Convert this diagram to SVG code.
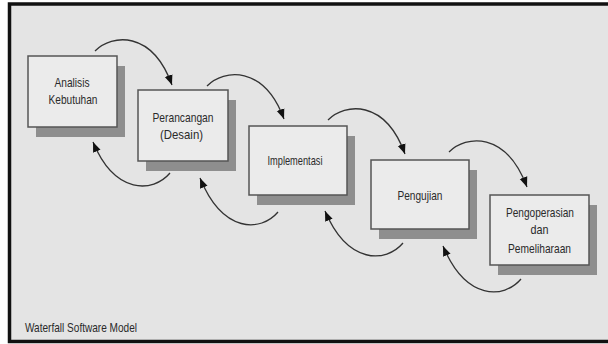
<svg xmlns="http://www.w3.org/2000/svg" width="608" height="344" viewBox="0 0 608 344">
<style>
.bg{fill:#e4e4e4;stroke:#111;stroke-width:3.5}
.shadow{fill:#8e8e8e}
.box{fill:#ebebeb;stroke:#555;stroke-width:1.5}
.lbl{font-family:"Liberation Sans Narrow","Liberation Sans",Arial,sans-serif;font-size:13.5px;fill:#2a2a2a;text-anchor:middle}
.cap{font-family:"Liberation Sans Narrow","Liberation Sans",Arial,sans-serif;font-size:13px;fill:#2a2a2a}
.arc{fill:none;stroke:#333;stroke-width:1.3}
</style>
<defs>
<marker id="ah" markerUnits="userSpaceOnUse" markerWidth="12" markerHeight="10" refX="10" refY="4" orient="auto" viewBox="0 0 12 8">
<path d="M0,0 L10,4 L0,8 Z" fill="#111"/>
</marker>
</defs>
<rect x="0" y="0" width="608" height="344" fill="#ffffff"/>
<rect class="bg" x="9.5" y="4" width="604" height="337.5"/>
<g id="connectors">
<path class="arc" d="M95,51 c17,-17 57,-21 77,34" marker-end="url(#ah)"/>
<path class="arc" d="M207,86 c17,-17 57,-21 77,33" marker-end="url(#ah)"/>
<path class="arc" d="M328,120 c17,-17 57,-21 77,34" marker-end="url(#ah)"/>
<path class="arc" d="M449,152 c17,-17 57,-21 78,35" marker-end="url(#ah)"/>
<path class="arc" d="M170,173 c-17,20 -55,22 -77,-31" marker-end="url(#ah)"/>
<path class="arc" d="M278,212 c-17,20 -55,22 -78,-34" marker-end="url(#ah)"/>
<path class="arc" d="M403,243 c-17,20 -55,22 -78,-32" marker-end="url(#ah)"/>
<path class="arc" d="M521,279 c-17,20 -55,22 -78,-33" marker-end="url(#ah)"/>
</g>
<g id="analisis">
<rect class="shadow" x="36" y="66" width="89" height="71"/>
<rect class="box" x="28" y="56" width="89" height="71"/>
<text class="lbl" x="72" y="87" textLength="35" lengthAdjust="spacingAndGlyphs">Analisis</text>
<text class="lbl" x="73" y="104" textLength="49" lengthAdjust="spacingAndGlyphs">Kebutuhan</text>
</g>
<g id="perancangan">
<rect class="shadow" x="146" y="100" width="90" height="71"/>
<rect class="box" x="138" y="90" width="90" height="71"/>
<text class="lbl" x="183" y="122" textLength="61" lengthAdjust="spacingAndGlyphs">Perancangan</text>
<text class="lbl" x="181.5" y="139" textLength="43" lengthAdjust="spacingAndGlyphs">(Desain)</text>
</g>
<g id="implementasi">
<rect class="shadow" x="257" y="136" width="98" height="69"/>
<rect class="box" x="249" y="126" width="98" height="69"/>
<text class="lbl" x="295" y="165" textLength="55" lengthAdjust="spacingAndGlyphs">Implementasi</text>
</g>
<g id="pengujian">
<rect class="shadow" x="379" y="170" width="98" height="69"/>
<rect class="box" x="371" y="160" width="98" height="69"/>
<text class="lbl" x="420" y="200" textLength="45" lengthAdjust="spacingAndGlyphs">Pengujian</text>
</g>
<g id="pengoperasian">
<rect class="shadow" x="498" y="205" width="99" height="70"/>
<rect class="box" x="490" y="195" width="99" height="70"/>
<text class="lbl" x="540" y="217" textLength="68" lengthAdjust="spacingAndGlyphs">Pengoperasian</text>
<text class="lbl" x="539.5" y="234" textLength="18" lengthAdjust="spacingAndGlyphs">dan</text>
<text class="lbl" x="539.5" y="252.5" textLength="63" lengthAdjust="spacingAndGlyphs">Pemeliharaan</text>
</g>
<text class="cap" x="25" y="332" textLength="112" lengthAdjust="spacingAndGlyphs">Waterfall Software Model</text>
</svg>
